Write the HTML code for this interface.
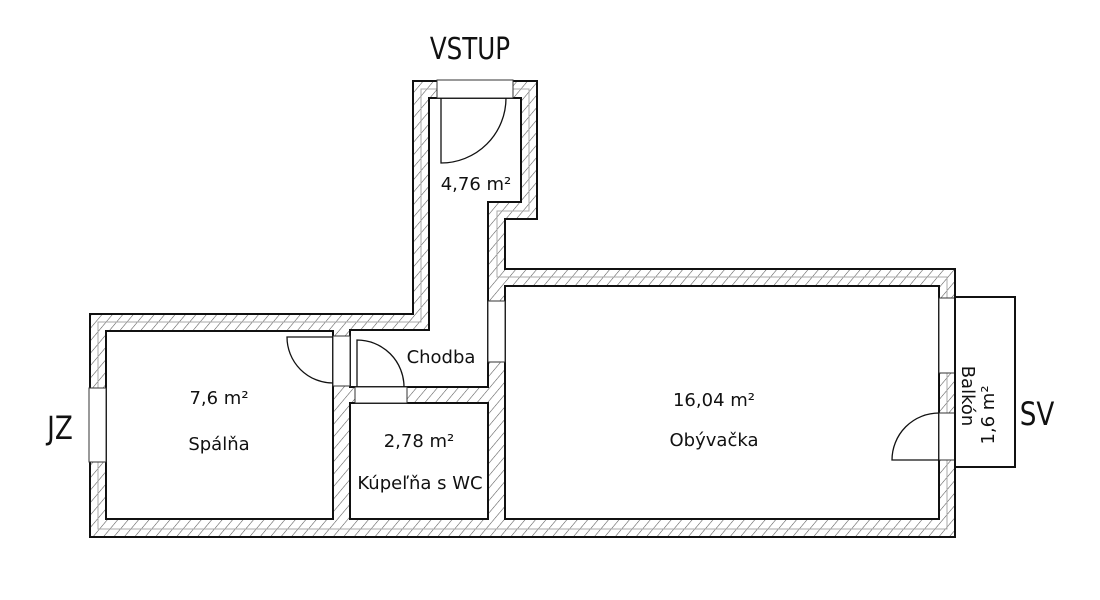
<!DOCTYPE html>
<html><head><meta charset="utf-8"><style>
html,body{margin:0;padding:0;background:#fff;}
svg{display:block;}
text{font-family:"DejaVu Sans","Liberation Sans",sans-serif;fill:#111;}
</style></head><body>
<svg width="1100" height="600" viewBox="0 0 1100 600" xmlns="http://www.w3.org/2000/svg">
<defs>
<pattern id="h" patternUnits="userSpaceOnUse" width="8" height="8" patternTransform="rotate(40)">
<rect width="8" height="8" fill="#fff"/>
<line x1="0" y1="0" x2="0" y2="8" stroke="#555" stroke-width="1.1"/>
</pattern>
</defs>
<polygon points="90,314 413,314 413,81 537,81 537,219 505,219 505,269 955,269 955,537 90,537" fill="url(#h)" stroke="#111" stroke-width="2"/>
<polygon points="98,322 421,322 421,89 529,89 529,211 497,211 497,277 947,277 947,529 98,529" fill="none" stroke="#aaa" stroke-width="1"/>
<rect x="106" y="331" width="227" height="188" fill="#fff" stroke="#111" stroke-width="2"/>
<rect x="350" y="403" width="138" height="116" fill="#fff" stroke="#111" stroke-width="2"/>
<rect x="505" y="286" width="434" height="233" fill="#fff" stroke="#111" stroke-width="2"/>
<polygon points="429,98 521,98 521,202 488,202 488,387 350,387 350,330 429,330" fill="#fff" stroke="#111" stroke-width="2"/>
<rect x="437" y="80" width="76" height="18" fill="#fff" stroke="#333" stroke-width="1"/>
<rect x="488" y="301" width="17" height="61" fill="#fff" stroke="#333" stroke-width="1"/>
<rect x="333" y="336" width="17" height="50" fill="#fff" stroke="#333" stroke-width="1"/>
<rect x="355" y="387" width="52" height="16" fill="#fff" stroke="#333" stroke-width="1"/>
<rect x="89" y="388" width="17" height="74" fill="#fff" stroke="#333" stroke-width="1"/>
<rect x="939" y="298" width="16" height="75" fill="#fff" stroke="#333" stroke-width="1"/>
<rect x="939" y="413" width="16" height="47" fill="#fff" stroke="#333" stroke-width="1"/>
<rect x="955" y="297" width="60" height="170" fill="#fff" stroke="#111" stroke-width="2"/>
<g fill="none" stroke="#111" stroke-width="1.3">
<path d="M441,98 L441,163 A65,65 0 0 0 506,98"/>
<path d="M333,337 L287,337 A46,46 0 0 0 333,383"/>
<path d="M357,387 L357,340 A47,47 0 0 1 404,387"/>
<path d="M939,460 L892,460 A47,47 0 0 1 939,413"/>
</g>
<text x="470" y="59" font-size="30" text-anchor="middle" transform="translate(470,0) scale(0.82,1) translate(-470,0)">VSTUP</text>
<text x="60" y="439" font-size="32" text-anchor="middle" transform="translate(60,0) scale(0.82,1) translate(-60,0)">JZ</text>
<text x="1037" y="425" font-size="32" text-anchor="middle" transform="translate(1037,0) scale(0.82,1) translate(-1037,0)">SV</text>
<g font-size="18" text-anchor="middle">
<text x="476" y="190">4,76 m²</text>
<text x="441" y="363">Chodba</text>
<text x="219" y="404">7,6 m²</text>
<text x="219" y="450">Spálňa</text>
<text x="419" y="447">2,78 m²</text>
<text x="420" y="489">Kúpeľňa s WC</text>
<text x="714" y="406">16,04 m²</text>
<text x="714" y="446">Obývačka</text>
<text x="0" y="0" transform="translate(962,396) rotate(90)">Balkón</text>
<text x="0" y="0" transform="translate(994,415) rotate(-90)">1,6 m²</text>
</g>
</svg>
</body></html>
